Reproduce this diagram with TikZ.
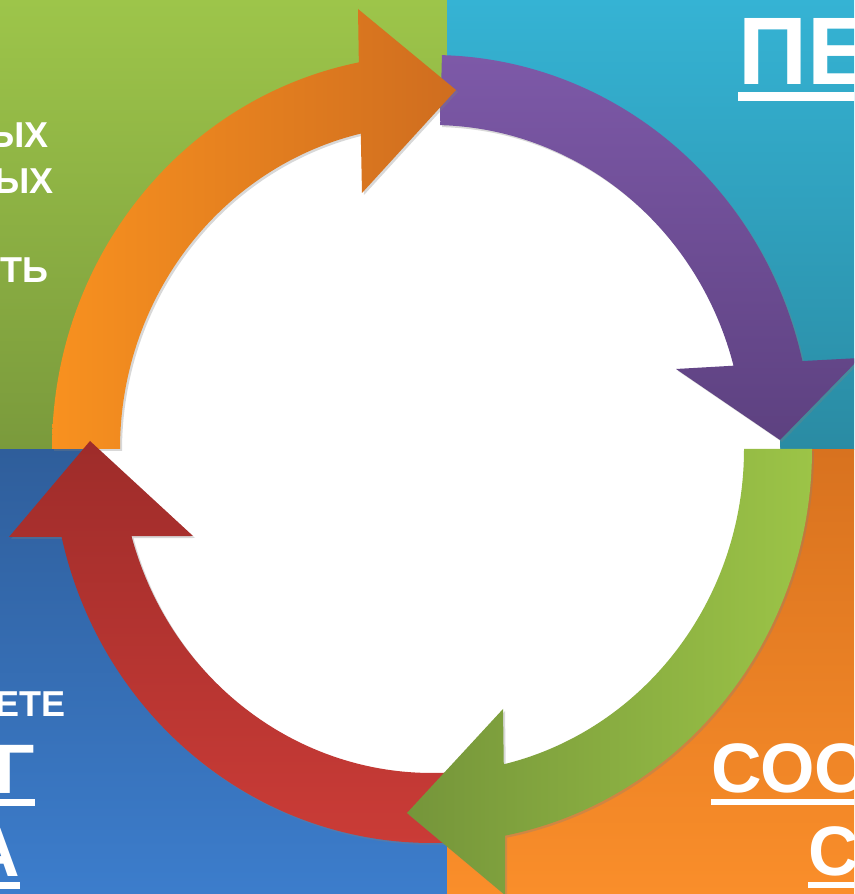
\documentclass[tikz,border=0pt]{standalone}
\usepackage{fontspec}
\setmainfont{Liberation Sans}
\usepackage{tikz}
\usetikzlibrary{shadows}

\definecolor{quadGreenTop}{HTML}{9DC54A}
\definecolor{quadGreenBot}{HTML}{7A9A3C}
\definecolor{quadTealTop}{HTML}{35B3D4}
\definecolor{quadTealBot}{HTML}{2A8BA3}
\definecolor{quadBlueTop}{HTML}{2F5E9B}
\definecolor{quadBlueBot}{HTML}{3C7DCC}
\definecolor{quadOrangeTop}{HTML}{D8721F}
\definecolor{quadOrangeBot}{HTML}{FA8E2A}
\definecolor{arrOrangeA}{HTML}{F8911F}
\definecolor{arrOrangeB}{HTML}{CF6D1F}
\definecolor{arrPurpleA}{HTML}{7D59A8}
\definecolor{arrPurpleB}{HTML}{5D4180}
\definecolor{arrGreenA}{HTML}{9CC447}
\definecolor{arrGreenB}{HTML}{75953A}
\definecolor{arrRedA}{HTML}{CB3C37}
\definecolor{arrRedB}{HTML}{9E2C2A}

\newcommand\ulword[1]{\vtop{\hbox{#1}\kern.075em\hrule height .09em}}

\begin{document}
\begin{tikzpicture}[x=1pt, y=1pt,
    ringarrow/.style={drop shadow={shadow xshift=2pt, shadow yshift=-2pt, opacity=.3}},
    smalltxt/.style={text=white, inner sep=0pt, font=\bfseries\fontsize{36}{40}\selectfont},
    midtxt/.style={text=white, inner sep=0pt, font=\bfseries\fontsize{70}{84}\selectfont},
    bigtxt/.style={text=white, inner sep=0pt, font=\bfseries\fontsize{96}{110}\selectfont}]
    \useasboundingbox (0,0) rectangle (854,894);
    \clip (0,0) rectangle (854,894);

    % four quarters
    \shade[top color=quadGreenTop, bottom color=quadGreenBot] (0,444) rectangle (447,894);
    \shade[top color=quadTealTop, bottom color=quadTealBot] (447,444) rectangle (854,894);
    \shade[top color=quadBlueTop, bottom color=quadBlueBot] (0,0) rectangle (447,444);
    \shade[top color=quadOrangeTop, bottom color=quadOrangeBot] (447,0) rectangle (854,444);

    \node[smalltxt, anchor=base east] (tlA) at (49,746) {ЫХ};
    \node[smalltxt, anchor=base east] (tlB) at (54,700) {ЫХ};
    \node[smalltxt, anchor=base east] (tlC) at (49,611) {ТЬ};
    \node[bigtxt, anchor=base west] (trA) at (738,809) {\ulword{ПЕ}};
    \node[smalltxt, anchor=base east] (blA) at (66,177) {ЕТЕ};
    \node[midtxt, anchor=base east] (blB) at (35,100) {\ulword{Г}};
    \node[midtxt, anchor=base east] (blC) at (20,17) {\ulword{А}};
    \node[midtxt, anchor=base west] (brA) at (711,101) {\ulword{СОО}};
    \node[midtxt, anchor=base west] (brB) at (808,18) {\ulword{С}};

    \fill[white] (432,445) ellipse [x radius=348, y radius=345];

    \begin{scope}[shift={(432,445)}]
    % clockwise ring
    \path[ringarrow, top color=arrPurpleA, bottom color=arrPurpleB]
        (88.5:380 and 394) arc[start angle=88.5, end angle=12.9, x radius=380, y radius=394]
        -- (428,91) -- (348,9) -- (244,80)
        -- (14.9:312 and 324) arc[start angle=14.9, end angle=88.5, x radius=312, y radius=324] -- cycle;
    \path[ringarrow, left color=arrOrangeA, right color=arrOrangeB]
        (180:380 and 394) arc[start angle=180, end angle=101.1, x radius=380, y radius=394]
        -- (-74,440) -- (24,359) -- (-70,256)
        -- (103.2:312 and 324) arc[start angle=103.2, end angle=180, x radius=312, y radius=324] -- cycle;
    \path[ringarrow, bottom color=arrRedA, top color=arrRedB]
        (272.5:380 and 394) arc[start angle=272.5, end angle=192.9, x radius=380, y radius=394]
        -- (-423,-88) -- (-342,8) -- (-239,-87)
        -- (195.6:312 and 324) arc[start angle=195.6, end angle=272.5, x radius=312, y radius=324] -- cycle;
    \path[ringarrow, right color=arrGreenA, left color=arrGreenB]
        (0:380 and 394) arc[start angle=0, end angle=-78.9, x radius=380, y radius=394]
        -- (73,-446) -- (-25,-364) -- (71,-260)
        -- (-76.7:312 and 324) arc[start angle=-76.7, end angle=0, x radius=312, y radius=324] -- cycle;
    \end{scope}
\end{tikzpicture}
\end{document}
